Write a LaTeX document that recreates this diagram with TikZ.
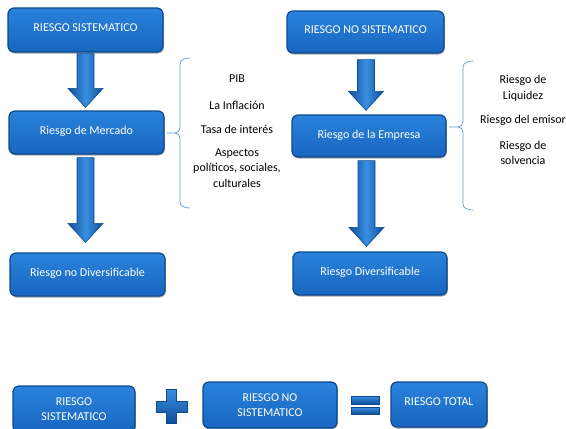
\documentclass[tikz,border=0pt]{standalone}
\usepackage{fontspec}
\setmainfont{Carlito}
\usetikzlibrary{calc,shadows}
\definecolor{boxfill}{HTML}{1F74CF}
\definecolor{boxtop}{HTML}{2A82DA}
\definecolor{boxbot}{HTML}{1866BF}
\definecolor{boxedge}{HTML}{0D4A91}
\definecolor{arrlight}{HTML}{3A8FE0}
\definecolor{arrdark}{HTML}{0F4E98}
\definecolor{bracecol}{HTML}{5B9BD5}
\tikzset{
  box/.style={rectangle, rounded corners=6pt, draw=boxedge, line width=1.2pt,
    top color=boxtop, bottom color=boxbot, text=white, align=center,
    font=\fontsize{12}{15}\selectfont, inner sep=2pt,
    drop shadow={shadow xshift=0.8pt, shadow yshift=-1.5pt, opacity=0.35, fill=black}},
  blk/.style={draw=boxedge, line width=0.6pt, left color=arrdark, right color=arrdark, middle color=arrlight},
  sym/.style={draw=boxedge, line width=0.6pt, top color=arrlight, bottom color=arrdark},
  brace/.style={draw=bracecol, line width=0.7pt},
  lst/.style={align=center, font=\fontsize{12}{15.5}\selectfont, text=black, inner sep=1pt}
}
\newcommand\up[1]{\raisebox{4pt}{#1}}
% from node, to node, x offset, top gap, tip gap
\newcommand\blkarrow[5]{%
  \path[blk] let \p1=($(#1.south)+(#3pt,-#4pt)$), \p2=($(#2.north)+(#3pt,#5pt)$) in
    (\x1-8.5pt,\y1) -- (\x1+8.5pt,\y1) -- (\x1+8.5pt,\y2+19pt) -- (\x1+17.5pt,\y2+19pt)
    -- (\x1,\y2) -- (\x1-17.5pt,\y2+19pt) -- (\x1-8.5pt,\y2+19pt) -- cycle;}
\begin{document}
\begin{tikzpicture}[x=1pt,y=-1pt]
\useasboundingbox (0,0) rectangle (566,429);
\clip (0,0) rectangle (566,429);
% left column
\node[box, minimum width=155pt, minimum height=44pt] (rs) at (85.5,30) {\up{RIESGO SISTEMATICO}};
\node[box, minimum width=155pt, minimum height=43pt] (rm) at (86.5,132.5) {\up{Riesgo de Mercado}};
\node[box, minimum width=155pt, minimum height=43pt] (rnd) at (87.5,274.5) {\up{Riesgo no Diversificable}};
% right column
\node[box, minimum width=157pt, minimum height=42pt] (rns) at (365.5,32) {\up{RIESGO NO SISTEMATICO}};
\node[box, minimum width=154pt, minimum height=42pt] (re) at (369,136) {\up{Riesgo de la Empresa}};
\node[box, minimum width=154pt, minimum height=43pt] (rd) at (370,273.5) {\up{Riesgo Diversificable}};
% arrows
\blkarrow{rs}{rm}{0}{1}{3}
\blkarrow{rm}{rnd}{-1}{3}{10}
\blkarrow{rns}{re}{0.5}{6}{4}
\blkarrow{re}{rd}{-2.5}{3}{5}
% left brace
\draw[brace] (190,58) to[out=180,in=90] (180,64) -- (180,128) to[out=-90,in=0] (175,133) -- (167,133);
\draw[brace] (175,133) to[out=0,in=90] (180,138) -- (180,202) to[out=-90,in=180] (190,208);
% right brace
\draw[brace] (473,61) to[out=180,in=90] (463,67) -- (463,122) to[out=-90,in=0] (458,127) -- (449,127);
\draw[brace] (458,127) to[out=0,in=90] (463,132) -- (463,204) to[out=-90,in=180] (473,210);
% lists
\node[lst] (pib) at (237,79) {PIB};
\node[lst] (inf) at (237,105) {La Inflación};
\node[lst] (tasa) at (237,129) {Tasa de interés};
\node[lst] (asp) at (237,168) {Aspectos\\políticos, sociales,\\culturales};
\node[lst] (liq) at (523,88.5) {Riesgo de\\Liquidez};
\node[lst] (emi) at (523,120) {Riesgo del emisor};
\node[lst] (sol) at (523,153) {Riesgo de\\solvencia};
% bottom row
\node[box, minimum width=122pt, minimum height=46pt] (b1) at (74,409) {RIESGO\\SISTEMATICO};
\node[box, minimum width=134pt, minimum height=46pt] (b2) at (270,405) {RIESGO NO\\SISTEMATICO};
\node[box, minimum width=96pt, minimum height=45pt] (b3) at (439,404.5) {\raisebox{5pt}{RIESGO TOTAL}};
% plus
\path[sym] (166,389) -- (176,389) -- (176,401) -- (187,401) -- (187,412) -- (176,412)
  -- (176,423) -- (166,423) -- (166,412) -- (156,412) -- (156,401) -- (166,401) -- cycle;
% equals
\path[sym] (351,396) rectangle (379,404);
\path[sym] (351,407) rectangle (379,414);
\end{tikzpicture}
\end{document}
